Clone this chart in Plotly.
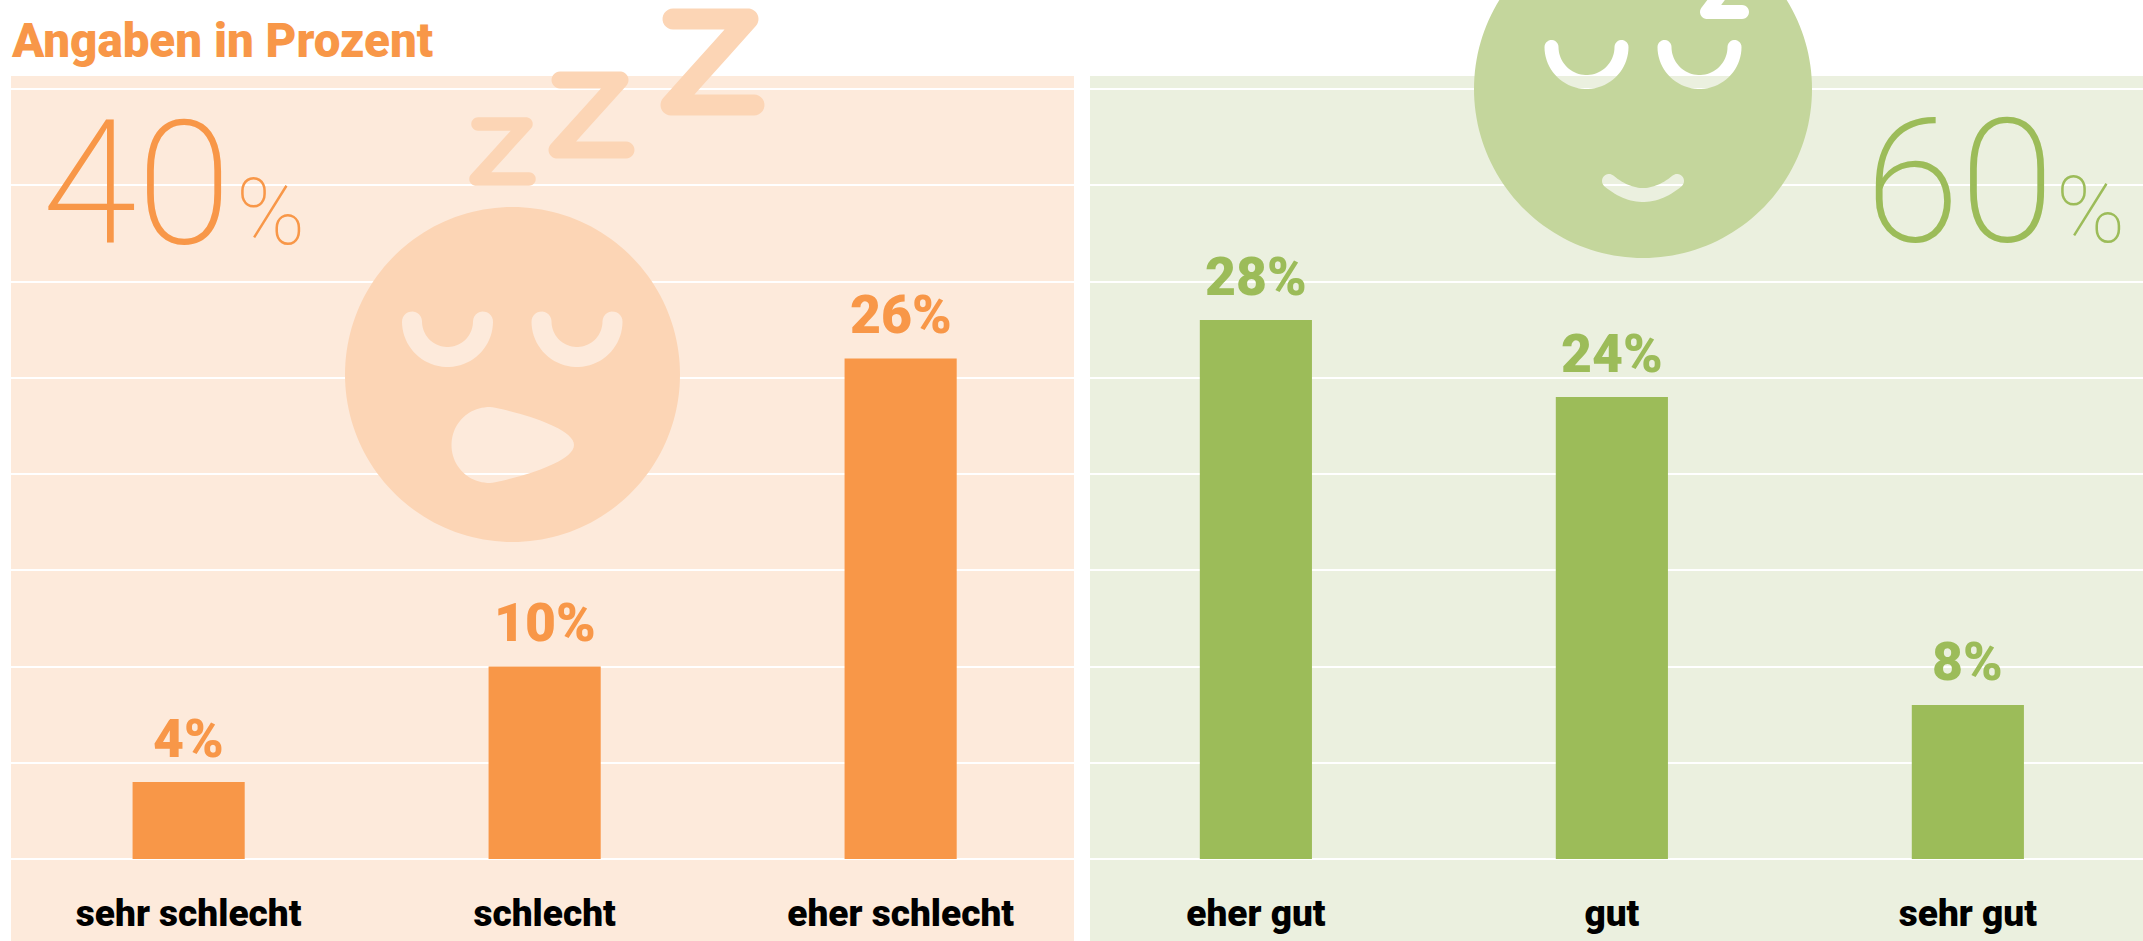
import numpy as np
import plotly.graph_objects as go

W, H = 2143, 941

title_text = "Angaben in Prozent"
cats_left = ["sehr schlecht", "schlecht", "eher schlecht"]
vals_left = [4, 10, 26]
cats_right = ["eher gut", "gut", "sehr gut"]
vals_right = [28, 24, 8]
grid_vals = [0, 5, 10, 15, 20, 25, 30, 35, 40]

ORANGE, ORANGE_BG, ORANGE_FACE = "#F89748", "#FDEADB", "#FCD5B5"
GREEN, GREEN_BG, GREEN_FACE = "#9CBC59", "#EBF0DF", "#C4D69C"
FONT = "Roboto"


def px(x, y):
    return f"{x / W:.6f},{1 - y / H:.6f}"


def poly(points):
    return "M" + "L".join(px(x, y) for x, y in points) + "Z"


def circle(cx, cy, r, n=180):
    t = np.linspace(0, 2 * np.pi, n, endpoint=False)
    return poly(np.c_[cx + r * np.cos(t), cy + r * np.sin(t)])


def stroke(points, w):
    """Outline of a smooth open polyline with round caps."""
    p = np.asarray(points, float)
    d = np.gradient(p, axis=0)
    d /= np.linalg.norm(d, axis=1, keepdims=True)
    nrm = np.c_[-d[:, 1], d[:, 0]] * w / 2
    a0 = np.arctan2(nrm[-1, 1], nrm[-1, 0])
    end = [p[-1] + w / 2 * np.array([np.cos(a0 - s), np.sin(a0 - s)]) for s in np.linspace(0, np.pi, 14)]
    a1 = np.arctan2(-nrm[0, 1], -nrm[0, 0])
    start = [p[0] + w / 2 * np.array([np.cos(a1 - s), np.sin(a1 - s)]) for s in np.linspace(0, np.pi, 14)]
    return np.vstack([p + nrm, end, (p - nrm)[::-1], start])


def capsule(a, b, w):
    return poly(stroke(np.linspace(a, b, 4), w))


def zigzag(pts, w):
    return "".join(capsule(pts[i], pts[i + 1], w) for i in range(len(pts) - 1))


def eye(cx, top, r, w):
    t = np.linspace(np.pi, 0, 40)
    arc = np.c_[cx + r * np.cos(t), top + r * np.sin(t)]
    return poly(stroke(arc, w))


def smile(x0, x1, ytop, ybot, w):
    t = np.linspace(0, 1, 30)
    pts = (1 - t)[:, None] ** 2 * np.array([x0, ytop]) + 2 * (t * (1 - t))[:, None] * np.array(
        [(x0 + x1) / 2, 2 * ybot - ytop]) + t[:, None] ** 2 * np.array([x1, ytop])
    return poly(stroke(pts, w))


def bez(p0, p1, p2, p3, n=24):
    t = np.linspace(0, 1, n)[:, None]
    return (1 - t) ** 3 * np.array(p0) + 3 * t * (1 - t) ** 2 * np.array(p1) + 3 * t ** 2 * (1 - t) * np.array(p2) + t ** 3 * np.array(p3)


mouth = np.vstack([
    bez((490, 407), (506, 409), (574, 426), (574, 445)),
    bez((574, 445), (574, 464), (506, 481), (490, 483)),
    bez((490, 483), (468, 483), (451.5, 466), (451.5, 445)),
    bez((451.5, 445), (451.5, 424), (468, 407), (490, 407)),
])

Z = dict(type="path", xref="paper", yref="paper", line=dict(width=0), layer="above", fillrule="nonzero")
shapes = [
    dict(type="path", xref="paper", yref="paper", fillrule="evenodd", fillcolor=ORANGE_FACE,
         line=dict(width=0), layer="above",
         path=circle(512.5, 374.5, 167.5) + eye(447.5, 321.5, 35.5, 20) + eye(577, 321.5, 35.5, 20) + poly(mouth)),
    dict(Z, fillcolor=ORANGE_FACE, path=zigzag([(478, 124), (526, 124), (476, 179), (529, 179)], 13.5)),
    dict(Z, fillcolor=ORANGE_FACE, path=zigzag([(560, 80), (620, 80), (557, 150), (626, 150)], 17)),
    dict(Z, fillcolor=ORANGE_FACE, path=zigzag([(673, 19), (748, 19), (671, 105), (754, 105)], 21)),
    dict(type="path", xref="paper", yref="paper", fillrule="evenodd", fillcolor=GREEN_FACE,
         line=dict(width=0), layer="above",
         path=circle(1643, 89, 169) + eye(1586.5, 47, 35, 14) + eye(1699.5, 47, 35, 14) + smile(1609, 1677, 181, 195, 14)),
    dict(Z, fillcolor="#FFFFFF", path=zigzag([(1742, 12), (1707, 12), (1735, -25)], 14)),
]

fig = go.Figure()
for cats, vals, col, xa, ya in [(cats_left, vals_left, ORANGE, "x", "y"), (cats_right, vals_right, GREEN, "x2", "y2")]:
    fig.add_trace(go.Bar(
        x=cats, y=vals, xaxis=xa, yaxis=ya, width=0.315, marker=dict(color=col, line=dict(width=0)),
        cliponaxis=False, showlegend=False, hoverinfo="skip",
    ))
    for c, v in zip(cats, vals):
        fig.add_annotation(text=f"{v}%", x=c, y=v, xref=xa, yref=ya, showarrow=False, xanchor="center",
                           yanchor="middle", yshift=44,
                           font=dict(family=FONT, size=53.5, color=col, weight=900))

y_range = [(859 - 941) / 19.25, (859 - 76) / 19.25]
x_axis = dict(
    anchor="free", position=1 - 859 / H, showgrid=False, zeroline=False, showline=False, ticks="",
    ticklabelstandoff=29, tickfont=dict(family=FONT, size=37, color="#000000", weight=900),
)
y_axis = dict(
    domain=[0, 1 - 76 / H], range=y_range, tickvals=grid_vals, showticklabels=False, ticks="",
    showgrid=True, gridcolor="#FFFFFF", gridwidth=2, zeroline=False, showline=False,
)
fig.update_layout(
    width=W, height=H, margin=dict(l=0, r=0, t=0, b=0), paper_bgcolor="#FFFFFF", plot_bgcolor=ORANGE_BG,
    xaxis=dict(x_axis, domain=[11 / W, 1074 / W], range=[-0.499, 2.487], type="category"),
    yaxis=dict(y_axis, anchor="x"),
    xaxis2=dict(x_axis, domain=[1090 / W, 1], range=[-0.466, 2.492], type="category"),
    yaxis2=dict(y_axis, anchor="x2"),
    shapes=shapes, font=dict(family=FONT),
)
# green panel background
fig.add_shape(type="rect", xref="x2 domain", yref="y2 domain", x0=0, x1=1, y0=0, y1=1,
              fillcolor=GREEN_BG, line=dict(width=0), layer="below")

big = [("40", 136.5, 184, ORANGE), ("60", 1959, 182.5, GREEN)]
small = [("%", 270, 212, ORANGE), ("%", 2090, 210, GREEN)]
for txt, cx, cy, col in big:
    fig.add_annotation(text=txt, x=cx / W, y=1 - cy / H, xref="paper", yref="paper", showarrow=False,
                       xanchor="center", yanchor="middle", font=dict(family=FONT, size=172, color=col, weight=200))
for txt, cx, cy, col in small:
    fig.add_annotation(text=txt, x=cx / W, y=1 - cy / H, xref="paper", yref="paper", showarrow=False,
                       xanchor="center", yanchor="middle", font=dict(family=FONT, size=93, color=col, weight=100))
fig.add_annotation(text=title_text, x=9 / W, y=1 - 41 / H, xref="paper", yref="paper", showarrow=False,
                   xanchor="left", yanchor="middle", font=dict(family=FONT, size=47.5, color=ORANGE, weight=900))

fig.write_html("out.html", config=dict(displayModeBar=False),
               post_script="document.body.style.margin='0';document.body.style.overflow='hidden';")
